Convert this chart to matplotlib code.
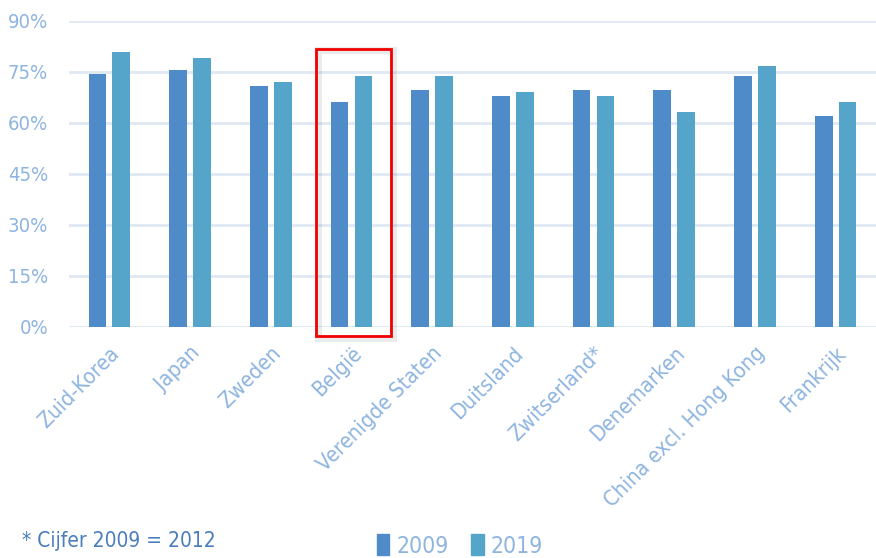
import matplotlib.pyplot as plt
import matplotlib.patches as mpatches
import numpy as np

landen = ['Zuid-Korea', 'Japan', 'Zweden', 'België', 'Verenigde Staten',
          'Duitsland', 'Zwitserland*', 'Denemarken', 'China excl. Hong Kong',
          'Frankrijk']
waarden_2009 = [74.3, 75.5, 70.8, 66.1, 69.6, 67.9, 69.6, 69.6, 73.7, 61.9]
waarden_2019 = [80.8, 79.0, 72.0, 73.7, 73.7, 69.0, 67.9, 63.1, 76.7, 66.1]
y_ticks = [0, 15, 30, 45, 60, 75, 90]

kleur_2009 = '#4F8BC8'
kleur_2019 = '#55A5CA'
tekst_kleur = '#8EB4E0'
grid_kleur = '#DFE8F3'

plt.rcParams['font.family'] = ['DejaVu Sans']
plt.rcParams['font.stretch'] = 'condensed'

fig = plt.figure(figsize=(8.76, 5.58), dpi=100)
ax = fig.add_axes([69 / 876, 231.3 / 558, 1 - 69 / 876, 306 / 558])

x = np.arange(len(landen))
breedte = 0.22
ax.bar(x - 0.148, waarden_2009, breedte, color=kleur_2009, label='2009', zorder=3)
ax.bar(x + 0.148, waarden_2019, breedte, color=kleur_2019, label='2019', zorder=3)

ax.set_xlim(-0.5, 9.5)
ax.set_ylim(0, 90)
ax.set_yticks(y_ticks)
ax.set_yticklabels([f'{t}%' for t in y_ticks], fontsize=14.5, color=tekst_kleur)
ax.yaxis.grid(True, color=grid_kleur, linewidth=2, zorder=0)
ax.set_axisbelow(True)
ax.tick_params(axis='both', length=0)
ax.tick_params(axis='y', pad=15)
ax.tick_params(axis='x', pad=12)
for s in ax.spines.values():
    s.set_visible(False)

ax.set_xticks(x)
ax.set_xticklabels(landen, rotation=45, ha='right', va='top',
                   rotation_mode='anchor', fontsize=15.5, color=tekst_kleur)

# rode kader rond Belgie (met lichte schaduw)
schaduw = mpatches.Rectangle((2.58, -3.3), 0.93, 84.6, fill=False,
                             edgecolor='#000000', alpha=0.08, linewidth=5,
                             clip_on=False, zorder=4)
ax.add_patch(schaduw)
kader = mpatches.Rectangle((2.56, -2.8), 0.93, 84.6, fill=False,
                           edgecolor='#F00000', linewidth=2, clip_on=False, zorder=5)
ax.add_patch(kader)

fig.text(22 / 876, 1 - 541 / 558, '* Cijfer 2009 = 2012', fontsize=15,
         color='#4A7EBB', va='center', ha='left')

handles = [mpatches.Patch(color=kleur_2009, label='2009'),
           mpatches.Patch(color=kleur_2019, label='2019')]
leg = fig.legend(handles=handles, loc='center', bbox_to_anchor=(460 / 876, 1 - 546 / 558),
                 ncol=2, frameon=False, fontsize=16.5, handlelength=0.55,
                 handleheight=1.0, handletextpad=0.3, columnspacing=1.0)
for t in leg.get_texts():
    t.set_color(tekst_kleur)

fig.savefig('out.png', dpi=100)
